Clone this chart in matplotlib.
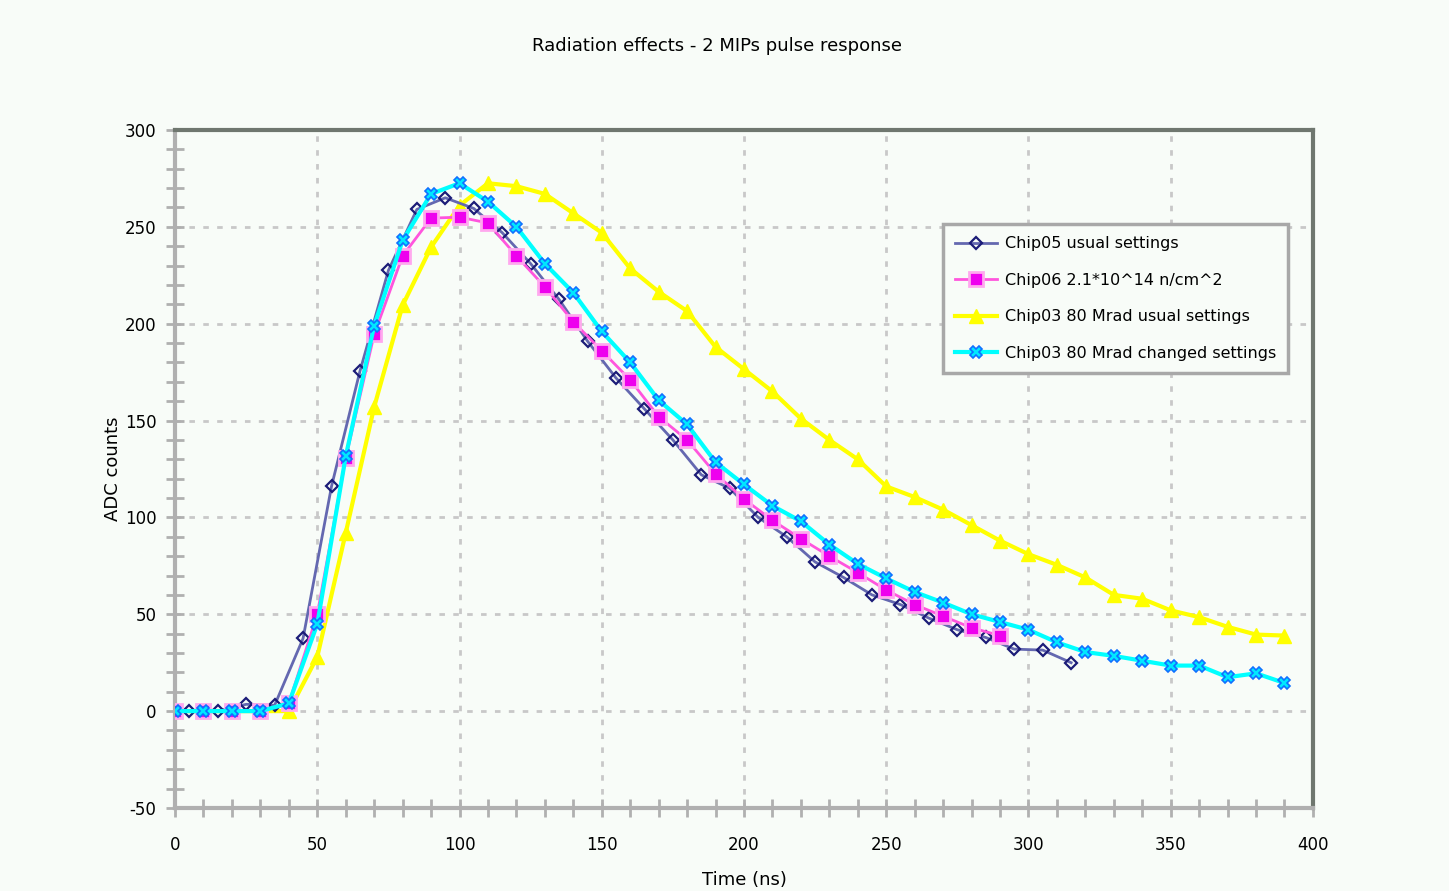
import matplotlib
matplotlib.use("Agg")
import matplotlib.pyplot as plt
from matplotlib.ticker import MultipleLocator

plt.rcParams["axes.unicode_minus"] = False

title = "Radiation effects - 2 MIPs pulse response"
xlabel = "Time (ns)"
ylabel = "ADC counts"

labels = ["Chip05 usual settings",
          "Chip06 2.1*10^14 n/cm^2",
          "Chip03 80 Mrad usual settings",
          "Chip03 80 Mrad changed settings"]

# Chip05 usual settings
x_chip05 = [5, 15, 25, 35, 45, 55, 65, 75, 85, 95, 105, 115, 125, 135, 145, 155,
            165, 175, 185, 195, 205, 215, 225, 235, 245, 255, 265, 275, 285, 295,
            305, 315]
y_chip05 = [0, 0, 3.5, 3, 37.5, 116, 175.5, 227.5, 259, 265, 259.5, 247, 231, 212.5,
            191, 172, 156, 140, 122, 115, 100, 90, 77, 69, 60, 55, 48, 42, 38,
            32, 31.5, 25]

# Chip06 2.1*10^14 n/cm^2
x_chip06 = [0, 10, 20, 30, 40, 50, 60, 70, 80, 90, 100, 110, 120, 130, 140, 150,
            160, 170, 180, 190, 200, 210, 220, 230, 240, 250, 260, 270, 280, 290]
y_chip06 = [0, 0, 0, 0, 4, 50, 130.5, 194.5, 235, 254.5, 255, 252, 235, 219, 201,
            186, 171, 152, 140, 122.5, 109.5, 98.5, 89, 80, 71.5, 62.5, 55, 49, 43,
            39]

# Chip03 80 Mrad usual settings
x_chip03u = [0, 10, 20, 30, 40, 50, 60, 70, 80, 90, 100, 110, 120, 130, 140, 150,
             160, 170, 180, 190, 200, 210, 220, 230, 240, 250, 260, 270, 280, 290,
             300, 310, 320, 330, 340, 350, 360, 370, 380, 390]
y_chip03u = [0, 0, 0, 0, 0, 28, 92, 157, 209.5, 239.5, 261, 272.5, 271, 267, 257,
             247, 228.5, 216.5, 206.5, 188, 176.5, 165, 151, 140, 130, 116, 110.5,
             104, 96, 88, 81, 75.5, 69, 60, 58, 52, 48.5, 43.5, 39.5, 39]

# Chip03 80 Mrad changed settings
x_chip03c = [0, 10, 20, 30, 40, 50, 60, 70, 80, 90, 100, 110, 120, 130, 140, 150,
             160, 170, 180, 190, 200, 210, 220, 230, 240, 250, 260, 270, 280, 290,
             300, 310, 320, 330, 340, 350, 360, 370, 380, 390]
y_chip03c = [0, 0, 0, 0, 4, 45, 131.5, 199, 243, 267, 272.5, 263, 250, 231, 216,
             196, 180, 160.5, 148, 128.5, 117, 106, 98, 86, 76, 68.5, 61.5, 56, 50,
             46, 42, 35.5, 30.5, 28.5, 26, 23.5, 23.5, 17.5, 19.5, 14.5]

bg = "#f8fcf8"
fig = plt.figure(figsize=(14.49, 8.91), dpi=100, facecolor=bg)
ax = fig.add_axes([0.1208, 0.0932, 0.7853, 0.7609], facecolor=bg)

ax.plot(x_chip05, y_chip05, color="#6468b0", lw=2.0, marker="D", ms=6.5,
        mfc="none", mec="#1c1c78", mew=1.6, label=labels[0], zorder=3)
ax.plot(x_chip06, y_chip06, color="#ff55dd", lw=2.0, marker="s", ms=10,
        mfc="#ee00ee", mec="#ffa8ee", mew=2, label=labels[1], zorder=3)
ax.plot(x_chip03u, y_chip03u, color="#ffff00", lw=3.0, marker="^", ms=10,
        mfc="#ffff00", mec="#ffff00", label=labels[2], zorder=2)
ax.plot(x_chip03c, y_chip03c, color="#00ffff", lw=3.0, marker="X", ms=9,
        mfc="#00e8ff", mec="#1070ff", mew=1.2, label=labels[3], zorder=4)

ax.set_xlim(0, 400)
ax.set_ylim(-50, 300)
ax.xaxis.set_major_locator(MultipleLocator(50))
ax.xaxis.set_minor_locator(MultipleLocator(10))
ax.yaxis.set_major_locator(MultipleLocator(50))
ax.yaxis.set_minor_locator(MultipleLocator(10))
ax.tick_params(which="both", direction="inout", color="#b0b0b0", width=2,
               length=13)
ax.tick_params(which="major", labelsize=12)
ax.tick_params(axis="x", pad=14)
ax.tick_params(axis="y", pad=7)

ax.grid(True, which="major", color="#c8c8c8", linestyle=(0, (2, 3)), lw=2)

for s in ["left", "bottom"]:
    ax.spines[s].set_color("#b0b0b0")
    ax.spines[s].set_linewidth(3)
for s in ["top", "right"]:
    ax.spines[s].set_color("#6f776f")
    ax.spines[s].set_linewidth(3)

ax.set_xlabel(xlabel, fontsize=13, labelpad=12)
ax.set_ylabel(ylabel, fontsize=13, labelpad=2)
fig.text(0.495, 0.948, title, ha="center", va="center", fontsize=13)

leg = ax.legend(loc="upper left", bbox_to_anchor=(0.675, 0.861), fontsize=11.5,
                frameon=True, fancybox=False, edgecolor="#a8a8a8",
                facecolor="#f8fcf8", framealpha=1, handlelength=2.6,
                handletextpad=0.5, borderaxespad=0, borderpad=0.75,
                labelspacing=1.35)
leg.get_frame().set_linewidth(2.5)

fig.savefig("out.png", dpi=100, facecolor=bg)
